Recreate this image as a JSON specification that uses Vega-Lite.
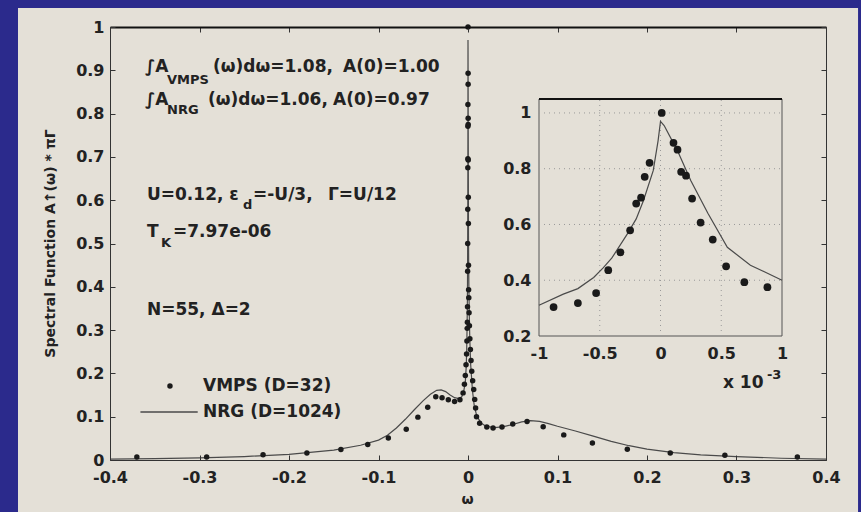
{
  "$schema": "https://vega.github.io/schema/vega-lite/v6.json",
  "width": 716,
  "height": 433,
  "autosize": {"type": "none"},
  "padding": {"left": 110, "top": 27, "right": 35, "bottom": 52},
  "background": "#e4e0d7",
  "config": {
    "view": {"stroke": null},
    "font": "DejaVu Sans",
    "axis": {
      "zindex": 1,
      "grid": false,
      "labelFont": "DejaVu Sans",
      "labelFontWeight": "bold",
      "labelFontSize": 16,
      "labelColor": "#222222",
      "labelFlush": false,
      "labelOverlap": false,
      "labelBound": false,
      "domainColor": "#333333",
      "tickColor": "#333333",
      "titleFont": "DejaVu Sans",
      "titleColor": "#222222"
    },
    "text": {"font": "DejaVu Sans", "fontWeight": "bold", "fontSize": 17, "color": "#222222", "align": "left", "baseline": "middle"}
  },
  "datasets": {
    "one": [{}],
    "vmps": [
      {"w": -0.370, "A": 0.007}, {"w": -0.292, "A": 0.007}, {"w": -0.229, "A": 0.012}, {"w": -0.180, "A": 0.016},
      {"w": -0.142, "A": 0.024}, {"w": -0.112, "A": 0.036}, {"w": -0.089, "A": 0.051}, {"w": -0.069, "A": 0.071},
      {"w": -0.056, "A": 0.099}, {"w": -0.045, "A": 0.122}, {"w": -0.036, "A": 0.146}, {"w": -0.029, "A": 0.144},
      {"w": -0.022, "A": 0.139}, {"w": -0.015, "A": 0.135}, {"w": -0.009, "A": 0.139}, {"w": -0.0055, "A": 0.155},
      {"w": -0.004, "A": 0.175}, {"w": -0.003, "A": 0.195}, {"w": -0.0022, "A": 0.22}, {"w": -0.0016, "A": 0.245},
      {"w": -0.0012, "A": 0.275},
      {"w": -0.00088, "A": 0.304}, {"w": -0.00068, "A": 0.318}, {"w": -0.00053, "A": 0.354}, {"w": -0.00043, "A": 0.436},
      {"w": -0.00033, "A": 0.500}, {"w": -0.00025, "A": 0.579}, {"w": -0.00020, "A": 0.675}, {"w": -0.00016, "A": 0.696},
      {"w": -0.00013, "A": 0.771}, {"w": -0.00009, "A": 0.821}, {"w": 0.00001, "A": 1.000}, {"w": 0.000107, "A": 0.893},
      {"w": 0.00014, "A": 0.868}, {"w": 0.00017, "A": 0.789}, {"w": 0.00021, "A": 0.775}, {"w": 0.00026, "A": 0.693},
      {"w": 0.00033, "A": 0.607}, {"w": 0.00043, "A": 0.546}, {"w": 0.00054, "A": 0.450}, {"w": 0.00069, "A": 0.393},
      {"w": 0.00088, "A": 0.375},
      {"w": 0.0012, "A": 0.34}, {"w": 0.0016, "A": 0.31}, {"w": 0.0021, "A": 0.28}, {"w": 0.0027, "A": 0.255},
      {"w": 0.0034, "A": 0.23}, {"w": 0.0042, "A": 0.205}, {"w": 0.0052, "A": 0.183}, {"w": 0.0064, "A": 0.163},
      {"w": 0.0075, "A": 0.14}, {"w": 0.0085, "A": 0.12}, {"w": 0.0095, "A": 0.10}, {"w": 0.013, "A": 0.085},
      {"w": 0.021, "A": 0.076}, {"w": 0.028, "A": 0.074}, {"w": 0.038, "A": 0.076}, {"w": 0.050, "A": 0.083},
      {"w": 0.066, "A": 0.089}, {"w": 0.084, "A": 0.077}, {"w": 0.107, "A": 0.058}, {"w": 0.139, "A": 0.039},
      {"w": 0.178, "A": 0.025}, {"w": 0.226, "A": 0.016}, {"w": 0.287, "A": 0.011}, {"w": 0.368, "A": 0.007}
    ],
    "nrg": [
      {"w": -0.4, "A": 0.002}, {"w": -0.35, "A": 0.003}, {"w": -0.3, "A": 0.005}, {"w": -0.25, "A": 0.008},
      {"w": -0.2, "A": 0.013}, {"w": -0.15, "A": 0.023}, {"w": -0.12, "A": 0.034}, {"w": -0.1, "A": 0.046},
      {"w": -0.09, "A": 0.057}, {"w": -0.08, "A": 0.074}, {"w": -0.07, "A": 0.094}, {"w": -0.06, "A": 0.116},
      {"w": -0.05, "A": 0.137}, {"w": -0.042, "A": 0.152}, {"w": -0.035, "A": 0.161}, {"w": -0.03, "A": 0.162},
      {"w": -0.025, "A": 0.158}, {"w": -0.02, "A": 0.150}, {"w": -0.015, "A": 0.144}, {"w": -0.01, "A": 0.142},
      {"w": -0.007, "A": 0.146}, {"w": -0.005, "A": 0.156}, {"w": -0.003, "A": 0.18}, {"w": -0.002, "A": 0.215},
      {"w": -0.0015, "A": 0.25}, {"w": -0.001, "A": 0.31}, {"w": -0.0008, "A": 0.35}, {"w": -0.00068, "A": 0.37},
      {"w": -0.00055, "A": 0.41}, {"w": -0.00047, "A": 0.445}, {"w": -0.0004, "A": 0.48}, {"w": -0.00027, "A": 0.568},
      {"w": -0.0002, "A": 0.62}, {"w": -0.00014, "A": 0.686}, {"w": -0.00006, "A": 0.793}, {"w": -0.00002, "A": 0.90},
      {"w": 0, "A": 0.97}, {"w": 0.00003, "A": 0.955}, {"w": 0.00014, "A": 0.864}, {"w": 0.00025, "A": 0.757},
      {"w": 0.00039, "A": 0.64}, {"w": 0.00055, "A": 0.518}, {"w": 0.00074, "A": 0.454}, {"w": 0.001, "A": 0.40},
      {"w": 0.0015, "A": 0.33}, {"w": 0.002, "A": 0.28}, {"w": 0.003, "A": 0.22}, {"w": 0.005, "A": 0.16},
      {"w": 0.007, "A": 0.125}, {"w": 0.01, "A": 0.10}, {"w": 0.015, "A": 0.085}, {"w": 0.02, "A": 0.078},
      {"w": 0.03, "A": 0.075}, {"w": 0.04, "A": 0.077}, {"w": 0.05, "A": 0.082}, {"w": 0.06, "A": 0.088},
      {"w": 0.07, "A": 0.091}, {"w": 0.08, "A": 0.089}, {"w": 0.09, "A": 0.084}, {"w": 0.1, "A": 0.078},
      {"w": 0.12, "A": 0.067}, {"w": 0.14, "A": 0.055}, {"w": 0.16, "A": 0.043}, {"w": 0.18, "A": 0.033},
      {"w": 0.2, "A": 0.025}, {"w": 0.23, "A": 0.017}, {"w": 0.26, "A": 0.012}, {"w": 0.3, "A": 0.008},
      {"w": 0.35, "A": 0.004}, {"w": 0.4, "A": 0.002}
    ],
    "notes": [
      {"w": -0.3609, "A": 0.908, "t": "∫A"},
      {"w": -0.2849, "A": 0.908, "t": "(ω)dω=1.08,"},
      {"w": -0.1397, "A": 0.908, "t": "A(0)=1.00"},
      {"w": -0.3609, "A": 0.831, "t": "∫A"},
      {"w": -0.2905, "A": 0.831, "t": "(ω)dω=1.06,"},
      {"w": -0.1508, "A": 0.831, "t": "A(0)=0.97"},
      {"w": -0.3587, "A": 0.612, "t": "U=0.12, ε"},
      {"w": -0.2402, "A": 0.612, "t": "=-U/3,"},
      {"w": -0.1564, "A": 0.612, "t": "Γ=U/12"},
      {"w": -0.3587, "A": 0.527, "t": "T"},
      {"w": -0.3296, "A": 0.527, "t": "=7.97e-06"},
      {"w": -0.3587, "A": 0.346, "t": "N=55, Δ=2"},
      {"w": -0.2961, "A": 0.171, "t": "VMPS (D=32)"},
      {"w": -0.2961, "A": 0.111, "t": "NRG (D=1024)"},
      {"w": 0.2849, "A": 0.178, "t": "x 10"}
    ],
    "subs": [
      {"w": -0.3363, "A": 0.878, "t": "VMPS"},
      {"w": -0.3363, "A": 0.808, "t": "NRG"},
      {"w": -0.2514, "A": 0.589, "t": "d"},
      {"w": -0.3430, "A": 0.501, "t": "K"},
      {"w": 0.334, "A": 0.197, "t": "-3"}
    ],
    "frame": [
      {"x1": -0.53, "x2": -0.5028, "y1": -0.3, "y2": 1.2},
      {"x1": -0.53, "x2": 0.47, "y1": 1.0439, "y2": 1.2},
      {"x1": 0.4358, "x2": 0.47, "y1": -0.3, "y2": 1.2}
    ],
    "gridx": [{"v": -0.0005}, {"v": 0}, {"v": 0.0005}],
    "gridy": [{"v": 0.4}, {"v": 0.6}, {"v": 0.8}, {"v": 1.0}]
  },
  "layer": [
    {
      "layer": [
        {
          "data": {"name": "frame"},
          "mark": {"type": "rect", "color": "#2b2a8c"},
          "encoding": {
            "x": {"field": "x1", "type": "quantitative", "scale": {"domain": [-0.4, 0.4], "nice": false}, "axis": null},
            "x2": {"field": "x2"},
            "y": {"field": "y1", "type": "quantitative", "scale": {"domain": [0, 1], "nice": false}, "axis": null},
            "y2": {"field": "y2"}
          }
        },
        {
          "data": {"name": "nrg"},
          "mark": {"type": "line", "color": "#4a4a4a", "strokeWidth": 1.2},
          "encoding": {
            "x": {"field": "w", "type": "quantitative", "scale": {"domain": [-0.4, 0.4], "nice": false},
              "axis": {"orient": "top", "zindex": 1, "labels": false, "title": null, "values": [-0.4, -0.3, -0.2, -0.1, 0, 0.1, 0.2, 0.3, 0.4], "tickSize": -5, "domainWidth": 2, "domainColor": "#111111"}},
            "y": {"field": "A", "type": "quantitative", "scale": {"domain": [0, 1], "nice": false},
              "axis": {"orient": "right", "zindex": 1, "labels": false, "title": null, "values": [0, 0.1, 0.2, 0.3, 0.4, 0.5, 0.6, 0.7, 0.8, 0.9, 1], "tickSize": -5}}
          }
        },
        {
          "data": {"name": "vmps"},
          "mark": {"type": "circle", "color": "#1a1a1a", "size": 30, "opacity": 1},
          "encoding": {
            "x": {"field": "w", "type": "quantitative", "scale": {"domain": [-0.4, 0.4], "nice": false},
              "axis": {"orient": "bottom", "zindex": 1, "values": [-0.4, -0.3, -0.2, -0.1, 0, 0.1, 0.2, 0.3, 0.4], "labelExpr": "'' + datum.value", "tickSize": -5, "labelPadding": 14,
                "title": "ω", "titleFontSize": 14, "titleFontWeight": "bold", "titleX": 357, "titleY": 39, "titleBaseline": "middle"}},
            "y": {"field": "A", "type": "quantitative", "scale": {"domain": [0, 1], "nice": false},
              "axis": {"orient": "left", "zindex": 1, "values": [0, 0.1, 0.2, 0.3, 0.4, 0.5, 0.6, 0.7, 0.8, 0.9, 1], "labelExpr": "'' + datum.value", "tickSize": -5, "labelPadding": 11,
                "title": "Spectral Function A↑(ω) * πΓ", "titleFontSize": 14, "titleFontWeight": "bold", "titleX": -60, "titleY": 216, "titleAngle": 270, "titleAlign": "center", "titleBaseline": "middle"}}
          }
        },
        {
          "data": {"name": "notes"},
          "mark": {"type": "text"},
          "encoding": {
            "x": {"field": "w", "type": "quantitative", "scale": {"domain": [-0.4, 0.4], "nice": false}, "axis": null},
            "y": {"field": "A", "type": "quantitative", "scale": {"domain": [0, 1], "nice": false}, "axis": null},
            "text": {"field": "t"}
          }
        },
        {
          "data": {"name": "subs"},
          "mark": {"type": "text", "fontSize": 13},
          "encoding": {
            "x": {"field": "w", "type": "quantitative", "scale": {"domain": [-0.4, 0.4], "nice": false}, "axis": null},
            "y": {"field": "A", "type": "quantitative", "scale": {"domain": [0, 1], "nice": false}, "axis": null},
            "text": {"field": "t"}
          }
        },
        {
          "data": {"name": "one"},
          "mark": {"type": "circle", "color": "#1a1a1a", "size": 30, "opacity": 1},
          "encoding": {
            "x": {"datum": -0.333, "type": "quantitative", "scale": {"domain": [-0.4, 0.4], "nice": false}, "axis": null},
            "y": {"datum": 0.171, "type": "quantitative", "scale": {"domain": [0, 1], "nice": false}, "axis": null}
          }
        },
        {
          "data": {"name": "one"},
          "mark": {"type": "rule", "color": "#4a4a4a", "strokeWidth": 1.5},
          "encoding": {
            "x": {"datum": -0.366, "type": "quantitative", "scale": {"domain": [-0.4, 0.4], "nice": false}, "axis": null},
            "x2": {"datum": -0.302},
            "y": {"datum": 0.111, "type": "quantitative", "scale": {"domain": [0, 1], "nice": false}, "axis": null}
          }
        }
      ],
      "resolve": {"axis": {"x": "independent", "y": "independent"}}
    },
    {
      "layer": [
        {
          "data": {"name": "one"},
          "mark": {"type": "rect", "color": "#e4e0d7", "stroke": "#555555", "strokeWidth": 1},
          "encoding": {
            "x": {"datum": -0.001, "type": "quantitative", "scale": {"domain": [-0.001, 0.001], "nice": false, "range": [429, 672]},
              "axis": {"orient": "bottom", "zindex": 1, "offset": -124, "values": [-0.001, -0.0005, 0, 0.0005, 0.001], "labelExpr": "'' + round(datum.value * 10000) / 10", "domain": false, "ticks": false, "labelPadding": 9, "title": null}},
            "x2": {"datum": 0.001},
            "y": {"datum": 0.2, "type": "quantitative", "scale": {"domain": [0.2, 1.05], "nice": false, "range": [309, 72]},
              "axis": {"orient": "left", "zindex": 1, "offset": -429, "values": [0.2, 0.4, 0.6, 0.8, 1], "labelExpr": "'' + datum.value", "domain": false, "ticks": false, "labelPadding": 8, "title": null}},
            "y2": {"datum": 1.05}
          }
        },
        {
          "data": {"name": "gridx"},
          "mark": {"type": "rule", "color": "#999999", "strokeWidth": 1, "strokeDash": [1, 4]},
          "encoding": {
            "x": {"field": "v", "type": "quantitative"},
            "y": {"datum": 0.2, "type": "quantitative"},
            "y2": {"datum": 1.05}
          }
        },
        {
          "data": {"name": "gridy"},
          "mark": {"type": "rule", "color": "#999999", "strokeWidth": 1, "strokeDash": [1, 4]},
          "encoding": {
            "y": {"field": "v", "type": "quantitative"},
            "x": {"datum": -0.001, "type": "quantitative"},
            "x2": {"datum": 0.001}
          }
        },
        {
          "data": {"name": "one"},
          "mark": {"type": "rule", "color": "#111111", "strokeWidth": 2},
          "encoding": {
            "y": {"datum": 1.05, "type": "quantitative"},
            "x": {"datum": -0.001, "type": "quantitative"},
            "x2": {"datum": 0.001}
          }
        },
        {
          "data": {"name": "nrg"},
          "transform": [{"filter": "datum.w >= -0.0010001 && datum.w <= 0.0010001"}],
          "mark": {"type": "line", "color": "#4a4a4a", "strokeWidth": 1.2},
          "encoding": {
            "x": {"field": "w", "type": "quantitative"},
            "y": {"field": "A", "type": "quantitative"}
          }
        },
        {
          "data": {"name": "vmps"},
          "transform": [{"filter": "datum.w >= -0.0010001 && datum.w <= 0.0010001"}],
          "mark": {"type": "circle", "color": "#1a1a1a", "size": 60, "opacity": 1},
          "encoding": {
            "x": {"field": "w", "type": "quantitative"},
            "y": {"field": "A", "type": "quantitative"}
          }
        }
      ]
    }
  ],
  "resolve": {"scale": {"x": "independent", "y": "independent"}}
}
